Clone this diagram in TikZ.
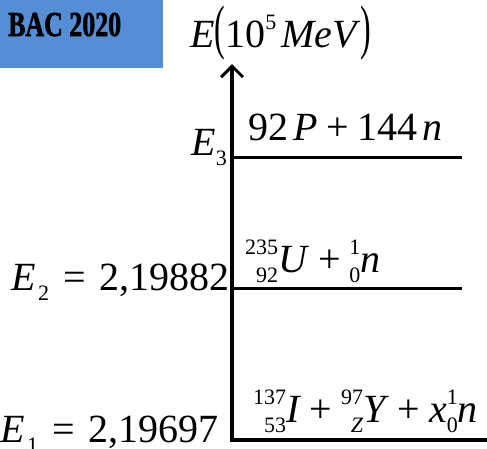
\documentclass[tikz,border=0pt]{standalone}
\usepackage{fontspec}
\setmainfont{Liberation Serif}
\newfontfamily\bacfont[FakeBold=2]{Liberation Serif Bold}
\usetikzlibrary{arrows.meta}
\definecolor{bacblue}{RGB}{85,142,213}
% petits indices et exposants (texte)
\newcommand{\petit}{\fontsize{22}{24}\selectfont}
\newcommand{\ind}[1]{\raisebox{-0.25em}{\petit #1}}
\newcommand{\expo}[1]{\raisebox{0.45em}{\petit #1}}
\newcommand{\noyau}[3]{{\setbox0=\hbox{\expo{#1}}\setbox2=\hbox{\ind{#2}}%
  \dimen0=\wd0 \ifdim\wd2>\dimen0 \dimen0=\wd2 \fi
  \hbox to\dimen0{\hss\llap{\box0}\llap{\box2}}}\textit{#3}}
\newcommand{\plus}{\hspace{0.22em}+\hspace{0.22em}}
\newcommand{\egal}{\hspace{0.35em}=\hspace{0.35em}}
\tikzset{
  lvl/.style={line width=3pt},
  lab/.style={inner sep=0pt, font=\fontsize{40}{48}\selectfont},
}
\begin{document}
\begin{tikzpicture}[x=1pt, y=-1pt, >={Straight Barb[length=11pt,width=22pt,line width=3pt]}]
  \useasboundingbox (0,0) rectangle (487,448);
  % cadre du sujet
  \fill[bacblue] (0,0) rectangle (163,68);
  \node[inner sep=0pt, anchor=base west, font=\bacfont\fontsize{35}{40}\selectfont] (bac) at (8,36) {\scalebox{0.74}[1]{BAC 2020}};
  % axe des energies
  \coordinate (O) at (232,440);
  \coordinate (haut) at (232,64);
  \coordinate (n1) at (487,440);
  \coordinate (n2) at (462,288);
  \coordinate (n3) at (462,157);
  \draw[<-, line width=3.5pt] (haut) -- (O) -- (n1);
  \node[lab, anchor=base west] (unite) at (190,47) {\textit{E}\scalebox{0.8}[1.5]{(}10\expo{5}\hspace{0.12em}\textit{MeV}\scalebox{0.8}[1.5]{)}};
  % niveaux d'energie
  \draw[lvl] (O |- n3) -- (n3);
  \draw[lvl] (O |- n2) -- (n2);
  % etiquettes
  \node[lab, anchor=base east] (e3) at (227,155) {\textit{E}\ind{3}};
  \node[lab, anchor=base east] (e2) at (230,290) {\textit{E}\hspace{0.05em}\ind{2}\egal 2,19882};
  \node[lab, anchor=base east] (e1) at (219,442) {\textit{E}\hspace{0.05em}\ind{1}\egal 2,19697};
  \node[lab, anchor=base west] (r3) at (248,140) {92\hspace{0.12em}\textit{P}\plus 144\hspace{0.12em}\textit{n}};
  \node[lab, anchor=base west] (r2) at (245,272) {\noyau{235}{92}{U}\plus\noyau{1}{0}{n}};
  \node[lab, anchor=base west] (r1) at (253,422) {\noyau{137}{53}{I}\plus\noyau{97}{\textit{Z}}{Y}\plus\textit{x}\noyau{1}{0}{n}};
\end{tikzpicture}
\end{document}
